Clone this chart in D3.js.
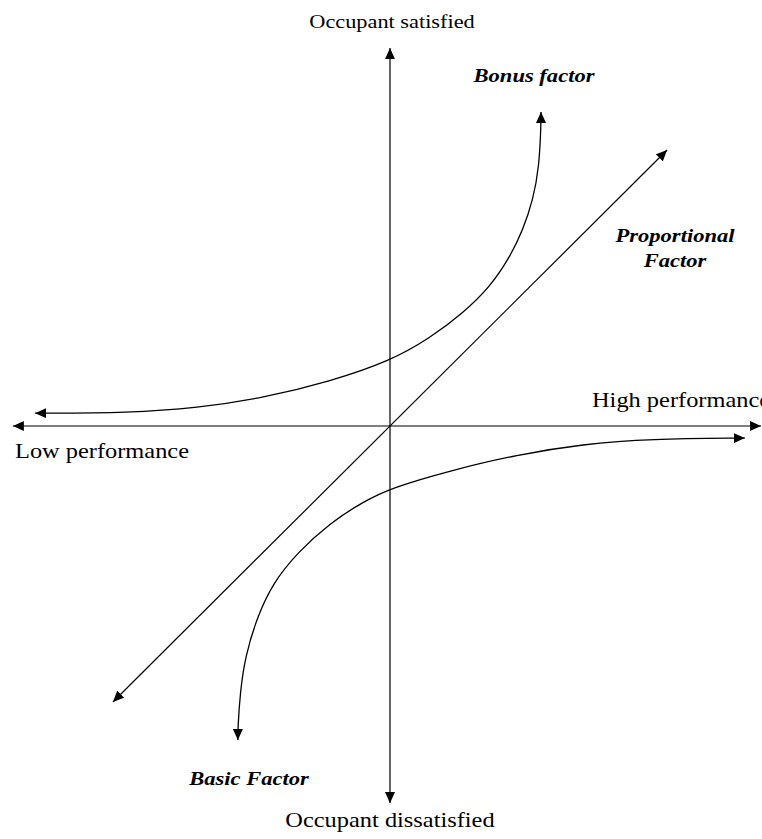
<!DOCTYPE html>
<html>
<head>
<meta charset="utf-8">
<script src="https://cdn.jsdelivr.net/npm/d3@7"></script>
<style>
  html, body { margin: 0; padding: 0; background: #fff; }
  svg { display: block; }
</style>
</head>
<body>
<script>
// ---- Data (diagram coordinates: performance x, satisfaction y, range -100..100) ----
const horizontalAxis = [[-99.9, 0], [98.3, 0]];
const verticalAxis = [[0, -99.9], [0, 100.1]];
const proportionalFactor = [[-73.4, -73.1], [73.4, 73.1]];
const bonusFactor = [
  [-94.0, 3.4], [-68.9, 3.5], [-51.1, 4.8], [-33.6, 7.4], [-15.9, 11.8],
  [0, 17.2], [10.6, 23.3], [19.3, 29.9], [26.5, 36.8], [31.8, 44.8],
  [35.2, 51.9], [37.9, 59.9], [39.5, 68.6], [40.0, 79.7], [40.0, 83.2]
];
const basicFactor = [
  [94.0, -3.2], [68.9, -3.4], [51.1, -4.8], [33.6, -7.6], [16.0, -11.8],
  [0.3, -16.4], [-7.2, -20.1], [-15.9, -25.7], [-24.6, -33.6],
  [-31.0, -41.6], [-35.2, -50.6], [-38.4, -61.2], [-39.7, -70.7],
  [-40.3, -80.0], [-40.3, -83.2]
];
const axisLabels = ["Occupant satisfied", "Occupant dissatisfied", "Low performance", "High performance"];
const factorLabels = ["Bonus factor", "Proportional", "Factor", "Basic Factor"];

// ---- Drawing ----
const W = 762, H = 839;
const svg = d3.select("body").append("svg").attr("width", W).attr("height", H);

const x = d3.scaleLinear().domain([-100, 100]).range([12.5, 767.5]);
const y = d3.scaleLinear().domain([-100, 100]).range([803.5, 48.5]);

const defs = svg.append("defs");
defs.append("marker")
  .attr("id", "arrow")
  .attr("viewBox", "0 0 11 10")
  .attr("markerUnits", "userSpaceOnUse")
  .attr("markerWidth", 11)
  .attr("markerHeight", 10)
  .attr("refX", 11)
  .attr("refY", 5)
  .attr("orient", "auto-start-reverse")
  .append("path")
  .attr("d", "M0,0 L11,5 L0,10 Z")
  .attr("fill", "#000");

const straight = d3.line().x(d => x(d[0])).y(d => y(d[1]));
const curved = d3.line().x(d => x(d[0])).y(d => y(d[1])).curve(d3.curveBasis);

[horizontalAxis, verticalAxis, proportionalFactor].forEach(seg => {
  svg.append("path")
    .attr("d", straight(seg))
    .attr("fill", "none")
    .attr("stroke", "#000")
    .attr("stroke-width", 1.2)
    .attr("marker-start", "url(#arrow)")
    .attr("marker-end", "url(#arrow)");
});

[bonusFactor, basicFactor].forEach(c => {
  svg.append("path")
    .attr("d", curved(c))
    .attr("fill", "none")
    .attr("stroke", "#000")
    .attr("stroke-width", 1.3)
    .attr("marker-start", "url(#arrow)")
    .attr("marker-end", "url(#arrow)");
});

// ---- Text ----
const SX = 1.22;
function label(txt, px, py, anchor, bold, size) {
  svg.append("text")
    .attr("transform", `translate(${px},${py}) scale(${SX},1)`)
    .attr("text-anchor", anchor)
    .attr("font-family", "'Liberation Serif', 'Times New Roman', serif")
    .attr("font-size", size)
    .attr("font-weight", bold ? "bold" : "normal")
    .attr("font-style", bold ? "italic" : "normal")
    .attr("fill", "#000")
    .text(txt);
}
label(axisLabels[0], 392, 28, "middle", false, 18.3);
label(axisLabels[1], 390, 827, "middle", false, 20);
label(axisLabels[2], 15, 458, "start", false, 20);
label(axisLabels[3], 592, 407, "start", false, 20);

label(factorLabels[0], 534, 82, "middle", true, 18.5);
label(factorLabels[1], 675, 242, "middle", true, 18.5);
label(factorLabels[2], 675, 267, "middle", true, 18.5);
label(factorLabels[3], 249, 785, "middle", true, 18.5);
</script>
</body>
</html>
